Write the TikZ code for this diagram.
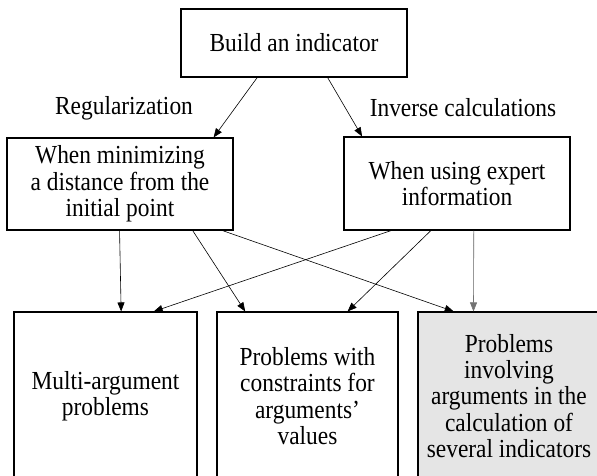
\documentclass[tikz,border=0pt]{standalone}
\usepackage{fontspec}
\setmainfont{Liberation Serif}[FakeStretch=0.9]
\usetikzlibrary{calc,arrows.meta}
\begin{document}
\begin{tikzpicture}[x=1pt,y=-1pt,
  txt/.style={font=\fontsize{26}{26.3}\selectfont},
  box/.style={draw=black, line width=1.1pt, rectangle, inner sep=0pt, align=center, txt},
  lbl/.style={inner sep=0pt, txt},
  conn/.style={line width=0.6pt, -{Triangle[length=9pt,width=7pt]}},
]
\useasboundingbox (0,0) rectangle (597,476);
\node[box, minimum width=226pt, minimum height=68pt] (top) at (294,43) {Build an indicator};
\node[box, minimum width=226pt, minimum height=92pt] (L) at (120,184) {When minimizing\\a distance from the\\initial point};
\node[box, minimum width=226pt, minimum height=93pt] (R) at (457,183.5) {When using expert\\information};
\node[box, minimum width=183pt, minimum height=168pt] (B1) at (105.5,396) {Multi-argument\\problems};
\node[box, minimum width=181pt, minimum height=168pt] (B2) at (307.5,396) {Problems with\\constraints for\\arguments’\\values};
\node[box, fill=black!10, minimum width=182pt, minimum height=168pt] (B3) at (509,396) {Problems\\involving\\arguments in the\\calculation of\\several indicators};
\node[lbl] (regl) at (124,108) {Regularization};
\node[lbl] (invl) at (463,108) {Inverse calculations};
% top to middle
\draw[conn] ($(top.south west)!0.338!(top.south east)$) -- ($(L.north west)!0.912!(L.north east)$);
\draw[conn] ($(top.south west)!0.648!(top.south east)$) -- ($(R.north west)!0.082!(R.north east)$);
% middle to bottom
\draw[conn] ($(L.south west)!0.498!(L.south east)$) -- ($(B1.north west)!0.585!(B1.north east)$);
\draw[conn] ($(L.south west)!0.82!(L.south east)$) -- ($(B2.north west)!0.158!(B2.north east)$);
\draw[conn] ($(L.south west)!0.951!(L.south east)$) -- ($(B3.north west)!0.198!(B3.north east)$);
\draw[conn] ($(R.south west)!0.21!(R.south east)$) -- ($(B1.north west)!0.762!(B1.north east)$);
\draw[conn] ($(R.south west)!0.385!(R.south east)$) -- ($(B2.north west)!0.72!(B2.north east)$);
\draw[conn, draw=black!55, fill=black] ($(R.south west)!0.574!(R.south east)$) -- ($(B3.north west)!0.306!(B3.north east)$);
\end{tikzpicture}
\end{document}
